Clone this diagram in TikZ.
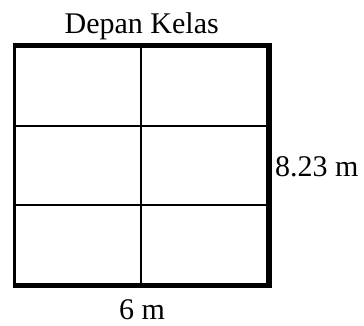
\documentclass[tikz,border=0pt]{standalone}
\usepackage{fontspec}
\setmainfont{Liberation Serif}
\begin{document}
\begin{tikzpicture}[x=1pt,y=-1pt,
  lbl/.style={inner sep=0pt,font=\fontsize{30}{35}\selectfont},
  thinline/.style={line width=2pt,black},
  thickline/.style={line width=5.5pt,black}]
\useasboundingbox (0,0) rectangle (364,325);
% inner grid
\draw[thinline] (140.5,45.3) -- (140.5,285.5);
\draw[thinline] (14.3,125.5) -- (269,125.5);
\draw[thinline] (14.3,204.7) -- (269,204.7);
% outer border
\draw[line width=3.4pt] (14.3,42.6) -- (14.3,288.2);
\draw[thickline] (12.6,45.3) -- (271.7,45.3);
\draw[thickline] (269,42.6) -- (269,288.2);
\draw[thickline] (12.6,285.5) -- (271.7,285.5);
% labels
\node[lbl,anchor=base] (front) at (141.7,33.3) {Depan Kelas};
\node[lbl,anchor=base west] (height) at (275,176) {8.23 m};
\node[lbl,anchor=base] (width) at (142,319) {6 m};
\end{tikzpicture}
\end{document}
